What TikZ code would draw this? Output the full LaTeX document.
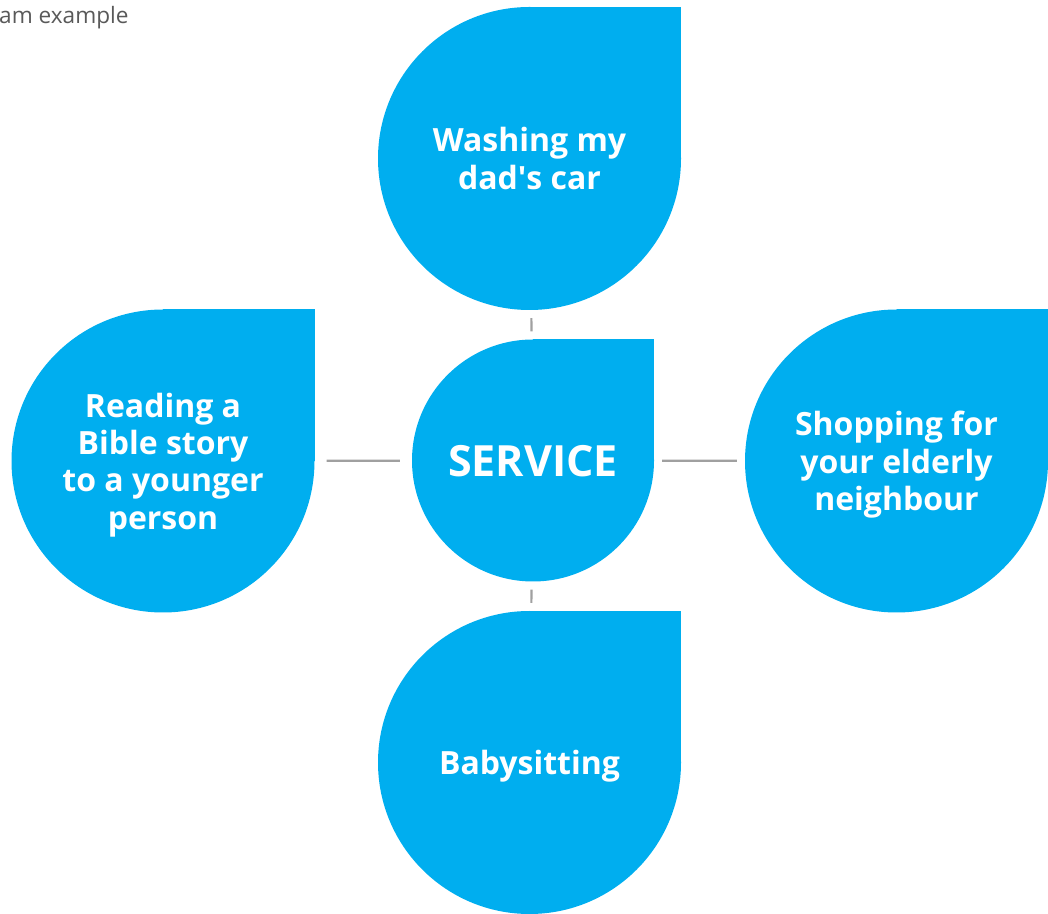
\documentclass[tikz,border=0pt]{standalone}
\usepackage{fontspec}
\setmainfont{Open Sans}
\usepackage{tikz}
\usetikzlibrary{backgrounds}
\definecolor{dropblue}{HTML}{00AEEF}
\definecolor{linegray}{HTML}{A0A0A0}
\definecolor{capgray}{HTML}{595959}

\begin{document}
\begin{tikzpicture}[x=1pt,y=1pt,
   drop/.style={circle,fill=dropblue,text=white,align=center,inner sep=0pt,minimum size=#1,
     text depth=0pt,font=\bfseries\fontsize{32}{37.3}\selectfont},
   link/.style={draw=linegray,line width=2.2pt}]
  \useasboundingbox (0,0) rectangle (1048,913);
  \node[anchor=base west,inner sep=0pt,text=capgray,font=\fontsize{22.6}{26}\selectfont] (cap) at (-1,889) {am example};
  \node[drop=242,font=\bfseries\fontsize{43}{48}\selectfont] (srv) at (533,452.5) {SERVICE};
  \foreach \nm/\x/\y/\txt in
     {car/529.5/754.5/{Washing my\\dad\textquotesingle s car},
      bib/163/452/{Reading a\\Bible story\\to a younger\\person},
      shop/896.5/452/{Shopping for\\your elderly\\neighbour},
      baby/529.5/150.5/{Babysitting}}{
     \node[drop=303] (\nm) at (\x,\y) {\txt};}
  % square corner of each drop
  \begin{scope}[on background layer]
    \foreach \nm in {srv,car,bib,shop,baby}{
       \fill[dropblue] (\nm.center) rectangle (\nm.north -| \nm.east);}
  \end{scope}
  \draw[link,shorten <=8pt,shorten >=8pt] (car) -- (srv);
  \draw[link,shorten <=8pt,shorten >=8pt] (srv) -- (baby);
  \draw[link,shorten <=12pt,shorten >=12pt] (bib) -- (srv);
  \draw[link,shorten <=8pt,shorten >=8pt] (srv) -- (shop);
\end{tikzpicture}
\end{document}
